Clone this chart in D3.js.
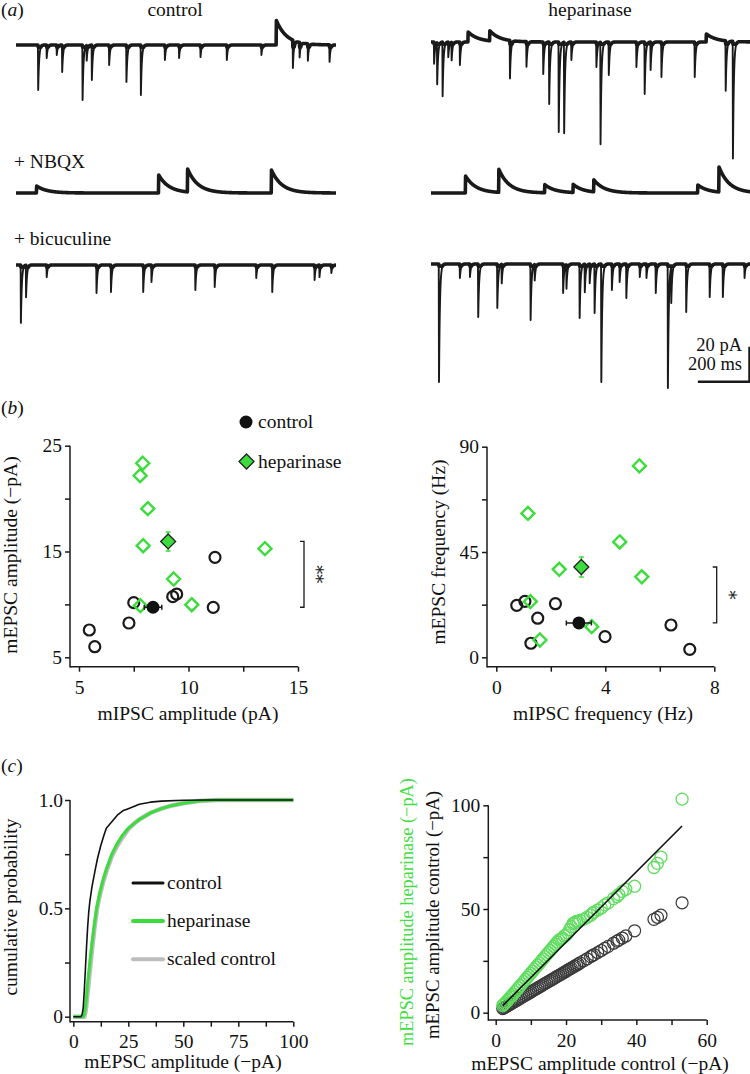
<!DOCTYPE html>
<html><head><meta charset="utf-8">
<script src="https://cdn.jsdelivr.net/npm/d3@7"></script>
<style>
body{margin:0;background:#fff}
text{font-family:"Liberation Serif","Times New Roman",serif;fill:#111}
</style>
</head><body><svg id="fig" width="750" height="1074"></svg>
<script>
// ---------- DATA ----------
// (a) traces: events [time ms, amplitude pA] (positive = inward/downward, negative = outward/upward)
const traceDuration = 1240;
const traceCtrl = [[86,25.7],[119,7.4],[158,5.7],[179,15.4],[258,31.4],[274,8.6],[294,20],[361,11.4],[428,21.1],[484,28.6],[577,8.6],[632,7.4],[715,6.9],[817,8.6],[951,5.7],[1009,-14],[1073,16],[1099,8.6],[1131,9.7],[1215,9.7]];
const traceHep = [[12,12.4],[24,23.8],[45,30.9],[67,8.6],[80,10.3],[112,13.1],[144,-5.7],[228,-5.7],[306,21.7],[370,14.3],[435,18.3],[458,35.4],[495,51.4],[516,52],[544,10.3],[641,14.3],[657,58.3],[689,18.9],[796,14.3],[828,29.7],[851,16],[893,20],[1022,20],[1067,-4.6],[1142,28.6],[1170,66.9]];
const traceCtrlNBQX = [[80,-4],[553,-10.3],[665,-13.1],[990,-13.1]];
const traceHepNBQX = [[134,-9.7],[263,-13.1],[441,-4.6],[551,-4.6],[631,-6.9],[1034,-4.6],[1116,-14.3]];
const traceCtrlBic = [[19,33.1],[39,18.3],[119,6.9],[312,16],[368,15.4],[493,15.4],[525,9.7],[695,14.3],[770,12.6],[931,7.4],[993,15.4],[1157,8.6],[1176,6.9],[1222,4.6]];
const traceHepBic = [[31,67.4],[112,8],[151,7.4],[183,30.3],[257,25.1],[274,10.9],[386,32],[402,9.1],[512,16.6],[525,13.7],[576,30.9],[596,16],[615,10.9],[634,28],[660,67.4],[701,14.9],[731,10.3],[757,19.4],[809,7.4],[835,8],[871,16.6],[918,70.9],[931,20.6],[989,27.4],[1080,18.9],[1131,18.9],[1215,8]];
const scaleBarPA = 20, scaleBarMS = 200;

// (b) scatter
const ampCtrlIPSC = [5.47,5.72,7.28,7.50,9.28,9.46,11.13,11.21];
const ampCtrlEPSC = [7.58,6.0,8.24,10.16,10.73,10.98,9.72,14.45];
const ampHepIPSC  = [7.91,7.79,8.14,7.93,9.32,7.80,10.15,13.49];
const ampHepEPSC  = [23.34,22.17,19.05,15.55,12.4,9.88,9.97,15.27];
const ampCtrlMean = [8.38, 9.73, 0.40, 0.30]; // x, y, sem x, sem y
const ampHepMean  = [9.07, 15.95, 0.20, 0.90];
const freqCtrlIPSC = [0.75,1.05,1.27,1.52,2.17,3.99,6.41,7.10];
const freqCtrlEPSC = [22.2,23.9,6.0,16.7,22.9,8.8,13.8,3.4];
const freqHepIPSC  = [5.25,1.16,4.53,2.31,5.34,1.25,3.50,1.60];
const freqHepEPSC  = [81.8,61.5,49.3,37.6,34.4,23.8,13.1,7.4];
const freqCtrlMean = [3.03, 14.7, 0.46, 1.5];
const freqHepMean  = [3.12, 38.6, 0.15, 4.3];
const ampXTicks = [5,10,15], ampXMinor = [7.5,12.5];
const ampYTicks = [5,15,25], ampYMinor = [10,20];
const freqXTicks = [0,4,8], freqXMinor = [2,6];
const freqYTicks = [0,45,90], freqYMinor = [22.5,67.5];

// (c) cumulative distributions [amplitude, probability]
const cdfControl = [[0,0],[3.5,0],[4,0.01],[4.5,0.04],[5,0.12],[5.5,0.22],[6,0.32],[6.5,0.41],[7,0.48],[7.5,0.53],[8.5,0.6],[10,0.68],[11,0.73],[12.5,0.79],[14,0.84],[15,0.87],[17.5,0.9],[20,0.93],[22.5,0.95],[25,0.96],[27.5,0.97],[30,0.98],[35,0.99],[40,0.995],[50,0.999],[60,1],[100,1]];
const cdfHeparinase = [[0,0],[4.5,0],[5,0.01],[5.5,0.04],[6,0.09],[6.5,0.15],[7,0.2],[7.5,0.25],[8.5,0.34],[9.5,0.42],[10.6,0.5],[12,0.57],[13.5,0.63],[15,0.68],[17.5,0.75],[20,0.8],[22.5,0.84],[25,0.87],[27.5,0.89],[30,0.91],[35,0.94],[40,0.96],[45,0.975],[50,0.985],[57,0.995],[65,1],[100,1]];
const cdfScaled = [[0,0],[5,0],[5.5,0.02],[6,0.06],[6.5,0.11],[7,0.16],[7.5,0.21],[8.5,0.31],[9.5,0.4],[10.8,0.5],[12,0.56],[13.5,0.62],[15,0.67],[17.5,0.74],[20,0.79],[22.5,0.83],[25,0.865],[27.5,0.89],[30,0.91],[35,0.94],[40,0.96],[45,0.975],[50,0.985],[57,0.995],[65,1],[100,1]];
const cdfXTicks = [0,25,50,75,100], cdfXMinor = [12.5,37.5,62.5,87.5];
const cdfYTicks = [0,0.5,1], cdfYMinor = [0.25,0.75];

// (c) quantile-quantile
const qqControl = [2,2.3,2.6,3,3.4,3.8,4.2,4.6,5,5.5,6,6.5,7,7.5,8,8.5,9,9.5,10,10.5,11,11.5,12,12.5,13,13.5,14,14.5,15,15.5,16,16.5,17,17.5,18,18.5,19,19.5,20,20.5,21,21.5,22,22.5,23,23.5,24,25,26,27,27.5,28,29,30,31,32,33.5,34.5,35,36,37,39.5,45,46,47,53];
const qqHeparinase = [3.5,4,4.5,5.2,6,6.8,7.5,8.2,9,10,11,12,13,14,15,16,17,18,19,20,21,22,23,24,25,26,27,28,29,30,31,32,33,34,35,35.5,36,37,37.5,38.5,40,41.5,43,43.5,44,44,44.5,45,46,47,48,48.5,49.5,50.5,52,53,55,56,57,58.5,59.5,61,70,72,75,103];
const qqFit = [[2,3.4],[53,90]];
const qqXTicks = [0,20,40,60], qqXMinor = [10,30,50];
const qqYTicks = [0,50,100], qqYMinor = [25,75];

// ---------- DRAW ----------
const GREEN = "#3ddc3d", INK = "#1a1a1a";
const svg = d3.select("#fig");
svg.append("rect").attr("width",750).attr("height",1074).attr("fill","#fff");
const FS = 19.5;

function txt(x, y, s, o={}) {
  const t = svg.append("text").attr("x",x).attr("y",y).text(s).style("font-size",(o.size||FS)+"px");
  if (o.anchor) t.attr("text-anchor",o.anchor);
  if (o.fill) t.style("fill",o.fill);
  if (o.family) t.style("font-family",o.family);
  if (o.rotate) t.attr("transform",`rotate(${o.rotate},${x},${y})`);
  return t;
}
function panelLabel(x,y,l){
  const t = svg.append("text").attr("x",x).attr("y",y).style("font-size",FS+"px");
  t.append("tspan").text("(");
  t.append("tspan").text(l).style("font-style","italic");
  t.append("tspan").text(")");
}

// ---- (a) traces ----
const tau = {fast: 3.5, slow: 40};
function traceValues(events){
  const pts = [];
  for (let t=0; t<=traceDuration; t+=1){
    let v = 0;
    events.forEach(([t0,a]) => { if (t>=t0) v += a*Math.exp(-(t-t0)/(a>0?tau.fast:tau.slow)); });
    pts.push([t,v]);
  }
  return pts;
}
function drawTrace(events, x0, baseY){
  const x = d3.scaleLinear().domain([0,traceDuration]).range([x0, x0+320]);
  const y = d3.scaleLinear().domain([0,20]).range([baseY, baseY+35]);
  const vals = traceValues(events);
  svg.append("path").datum(vals)
    .attr("d", d3.line().x(d=>x(d[0])).y(d=>y(Math.min(d[1],1.2))))
    .attr("fill","none").attr("stroke",INK).attr("stroke-width",3.6).attr("stroke-linejoin","round");
  svg.append("path").datum(vals)
    .attr("d", d3.line().x(d=>x(d[0])).y(d=>y(d[1])))
    .attr("fill","none").attr("stroke",INK).attr("stroke-width",1.9).attr("stroke-linejoin","round");
  return {x,y};
}
panelLabel(1,16,"a");
txt(175,16,"control",{anchor:"middle"});
txt(590,16,"heparinase",{anchor:"middle"});
drawTrace(traceCtrl, 16, 45);
drawTrace(traceHep, 431, 42);
txt(14,168,"+ NBQX");
drawTrace(traceCtrlNBQX, 16, 193);
drawTrace(traceHepNBQX, 431, 193);
txt(14,245,"+ bicuculine");
drawTrace(traceCtrlBic, 16, 265);
const sb = drawTrace(traceHepBic, 431, 264);
{
  const xr = 749.5, yb = 381.7;
  const lenT = sb.x(scaleBarMS)-sb.x(0), lenA = sb.y(scaleBarPA)-sb.y(0);
  svg.append("path").attr("d",`M${xr-lenT},${yb}H${xr}V${yb-lenA}`)
    .attr("fill","none").attr("stroke",INK).attr("stroke-width",2.5);
  txt(742,351,"20 pA",{anchor:"end",size:18.5});
  txt(742,370,"200 ms",{anchor:"end",size:18.5});
}

// ---- axes helper ----
function drawAxes(x, y, o){
  const g = svg.append("g");
  const gx = g.append("g").attr("transform",`translate(0,${o.xAxisY})`)
    .call(d3.axisBottom(x).tickValues(o.xT.concat(o.xM)).tickSize(5).tickPadding(o.xPad||8)
      .tickFormat(d=>o.xT.includes(d)?d:""));
  const gy = g.append("g").attr("transform",`translate(${o.yAxisX},0)`)
    .call(d3.axisLeft(y).tickValues(o.yT.concat(o.yM)).tickSize(5).tickPadding(o.yPad||3)
      .tickFormat(d=>o.yT.includes(d)?(o.yFmt?o.yFmt(d):d):""));
  [gx,gy].forEach(a=>{
    a.select(".domain").remove();
    a.attr("font-family",null).attr("font-size",null).attr("color",INK);
    a.selectAll("line").attr("stroke-width",1.5);
    a.selectAll("text").style("font-size",FS+"px");
  });
  g.append("line").attr("x1",o.yAxisX).attr("x2",o.yAxisX).attr("y1",y.range()[1]).attr("y2",o.xAxisY+0.75)
    .attr("stroke",INK).attr("stroke-width",1.5);
  g.append("line").attr("x1",o.yAxisX).attr("x2",x.range()[1]).attr("y1",o.xAxisY).attr("y2",o.xAxisY)
    .attr("stroke",INK).attr("stroke-width",1.5);
}

function diamond(g, cx, cy, r){
  return g.append("path").attr("d",`M${cx},${cy-r}L${cx+r},${cy}L${cx},${cy+r}L${cx-r},${cy}Z`);
}
function scatterPanel(x, y, cX, cY, hX, hY, cM, hM, bracketX, star, starX){
  const g = svg.append("g");
  cX.forEach((v,i)=> g.append("circle").attr("cx",x(v)).attr("cy",y(cY[i])).attr("r",5.5)
    .attr("fill","none").attr("stroke",INK).attr("stroke-width",2.2));
  hX.forEach((v,i)=> diamond(g,x(v),y(hY[i]),6.5).attr("fill","none").attr("stroke",GREEN).attr("stroke-width",2.4));
  [[cM,INK],[hM,GREEN]].forEach(([m,col])=>{
    const mx=x(m[0]), my=y(m[1]);
    const x1=x(m[0]-m[2]), x2=x(m[0]+m[2]), y1=y(m[1]-m[3]), y2=y(m[1]+m[3]);
    g.append("path").attr("d",`M${x1},${my}H${x2}M${x1},${my-2.5}V${my+2.5}M${x2},${my-2.5}V${my+2.5}M${mx},${y1}V${y2}M${mx-2.5},${y1}H${mx+2.5}M${mx-2.5},${y2}H${mx+2.5}`)
      .attr("stroke",col).attr("stroke-width",1.5).attr("fill","none");
  });
  g.append("circle").attr("cx",x(cM[0])).attr("cy",y(cM[1])).attr("r",6.5).attr("fill","#111");
  diamond(g,x(hM[0]),y(hM[1]),7.5).attr("fill",GREEN).attr("stroke","#222").attr("stroke-width",1.3);
  const yt=y(hM[1]), yb=y(cM[1]);
  g.append("path").attr("d",`M${bracketX-4},${yt}H${bracketX}V${yb}H${bracketX-4}`)
    .attr("fill","none").attr("stroke",INK).attr("stroke-width",1.3);
  txt(starX,(yt+yb)/2,star,{anchor:"middle",rotate:90,size:18,fill:"#222",family:"'DejaVu Serif',serif"});
}

// ---- (b) left ----
panelLabel(1,414,"b");
const xA = d3.scaleLinear().domain([5,15]).range([79,298]);
const yA = d3.scaleLinear().domain([5,25]).range([657.3,445.7]);
drawAxes(xA,yA,{xT:ampXTicks,xM:ampXMinor,yT:ampYTicks,yM:ampYMinor,xAxisY:666.7,yAxisX:70,xPad:8});
scatterPanel(xA,yA,ampCtrlIPSC,ampCtrlEPSC,ampHepIPSC,ampHepEPSC,ampCtrlMean,ampHepMean,304,"**",310);
txt(17,555,"mEPSC amplitude (\u2212pA)",{anchor:"middle",rotate:-90});
txt(188,720,"mIPSC amplitude (pA)",{anchor:"middle"});
svg.append("circle").attr("cx",246).attr("cy",422).attr("r",6.5).attr("fill","#111");
txt(258,428,"control");
diamond(svg,246.5,461.5,7.5).attr("fill",GREEN).attr("stroke","#222").attr("stroke-width",1.3);
txt(258,468,"heparinase");

// ---- (b) right ----
const xF = d3.scaleLinear().domain([0,8]).range([496.3,714.3]);
const yF = d3.scaleLinear().domain([0,90]).range([657.3,446.7]);
drawAxes(xF,yF,{xT:freqXTicks,xM:freqXMinor,yT:freqYTicks,yM:freqYMinor,xAxisY:666.7,yAxisX:487,xPad:8});
scatterPanel(xF,yF,freqCtrlIPSC,freqCtrlEPSC,freqHepIPSC,freqHepEPSC,freqCtrlMean,freqHepMean,716.7,"*",723);
txt(445,552,"mEPSC frequency (Hz)",{anchor:"middle",rotate:-90});
txt(603,720,"mIPSC frequency (Hz)",{anchor:"middle"});

// ---- (c) left ----
panelLabel(1,772,"c");
const xC = d3.scaleLinear().domain([0,100]).range([73.3,293.3]);
const yC = d3.scaleLinear().domain([0,1]).range([1016.7,800]);
drawAxes(xC,yC,{xT:cdfXTicks,xM:cdfXMinor,yT:cdfYTicks,yM:cdfYMinor,xAxisY:1021.7,yAxisX:70,xPad:7,yPad:2,
  yFmt:d=>d===0?"0":d3.format(".1f")(d)});
const lineC = d3.line().x(d=>xC(d[0])).y(d=>yC(d[1]));
svg.append("path").datum(cdfScaled).attr("d",lineC).attr("fill","none").attr("stroke","#bdbdbd").attr("stroke-width",4.5).attr("stroke-linejoin","round");
svg.append("path").datum(cdfHeparinase).attr("d",lineC).attr("fill","none").attr("stroke",GREEN).attr("stroke-width",3).attr("stroke-linejoin","round");
svg.append("path").datum(cdfControl).attr("d",lineC).attr("fill","none").attr("stroke","#111").attr("stroke-width",1.6).attr("stroke-linejoin","round");
[["control","#111",3,883],["heparinase",GREEN,4,921],["scaled control","#bdbdbd",4,959.3]].forEach(([l,c,w,yy])=>{
  svg.append("line").attr("x1",133).attr("x2",163).attr("y1",yy).attr("y2",yy).attr("stroke",c).attr("stroke-width",w).attr("stroke-linecap","round");
  txt(167,yy+5.5,l);
});
txt(17,907,"cumulative probability",{anchor:"middle",rotate:-90});
txt(183,1068,"mEPSC amplitude (\u2212pA)",{anchor:"middle"});

// ---- (c) right ----
const xQ = d3.scaleLinear().domain([0,60]).range([495.7,706.7]);
const yQ = d3.scaleLinear().domain([0,100]).range([1012.7,805.3]);
drawAxes(xQ,yQ,{xT:qqXTicks,xM:qqXMinor,yT:qqYTicks,yM:qqYMinor,xAxisY:1020,yAxisX:488.3,xPad:8});
const gq = svg.append("g");
qqControl.forEach(v=> gq.append("circle").attr("cx",xQ(v)).attr("cy",yQ(v)).attr("r",6)
  .attr("fill","none").attr("stroke","#3a3a3a").attr("stroke-width",1.2));
qqControl.forEach((v,i)=> gq.append("circle").attr("cx",xQ(v)).attr("cy",yQ(qqHeparinase[i])).attr("r",6)
  .attr("fill","none").attr("stroke","#5fdc5f").attr("stroke-width",1.3));
gq.append("path").datum(qqFit).attr("d",d3.line().x(d=>xQ(d[0])).y(d=>yQ(d[1])))
  .attr("stroke","#111").attr("stroke-width",1.6).attr("fill","none");
txt(413,912,"mEPSC amplitude heparinase (\u2212pA)",{anchor:"middle",rotate:-90,fill:"#44dd44",size:18.3});
txt(439,915,"mEPSC amplitude control (\u2212pA)",{anchor:"middle",rotate:-90,size:18.8});
txt(600,1070,"mEPSC amplitude control (\u2212pA)",{anchor:"middle"});
</script></body></html>
